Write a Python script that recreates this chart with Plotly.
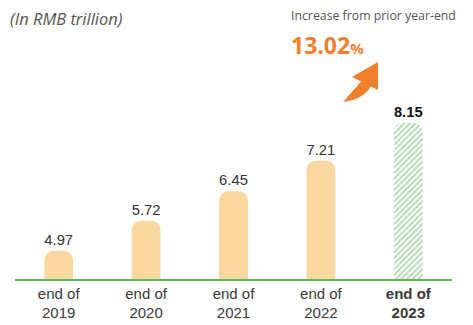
import plotly.graph_objects as go

categories = ["end of<br>2019", "end of<br>2020", "end of<br>2021", "end of<br>2022", "<b>end of<br>2023</b>"]
values = [4.97, 5.72, 6.45, 7.21, 8.15]
value_labels = ["4.97", "5.72", "6.45", "7.21", "<b>8.15</b>"]
growth_label = "13.02"

bar_fill = "#FCD8A1"
hatch_green = "#4CAF50"
orange = "#F07F2E"

fig = go.Figure()
fig.add_trace(go.Bar(
    x=categories[:4], y=values[:4],
    text=value_labels[:4], textposition="outside",
    textfont=dict(family="Liberation Sans, Arial", size=15, color="#333333"),
    marker=dict(color=bar_fill, line=dict(width=0)),
    cliponaxis=False, showlegend=False,
))
fig.add_trace(go.Bar(
    x=categories[4:], y=values[4:],
    text=value_labels[4:], textposition="outside",
    textfont=dict(family="Liberation Sans, Arial", size=16, color="#111111"),
    marker=dict(color="white", line=dict(width=0),
                pattern=dict(shape="/", fgcolor=hatch_green, bgcolor="white",
                             size=4, solidity=0.4, fillmode="overlay")),
    cliponaxis=False, showlegend=False,
))

fig.update_layout(
    width=473, height=325,
    margin=dict(l=7, r=29, t=52, b=54, autoexpand=False),
    paper_bgcolor="white", plot_bgcolor="white",
    bargap=0.67, barmode="overlay", barcornerradius=9,
    xaxis=dict(categoryorder="array", categoryarray=categories, automargin=False,
               showline=True, linecolor="#5DB85C", linewidth=1.5,
               ticks="", showgrid=False, zeroline=False,
               tickfont=dict(family="Liberation Sans, Arial", size=15, color="#3a3a3a")),
    yaxis=dict(range=[4.27, 9.71], visible=False, showgrid=False, zeroline=False, automargin=False),
    annotations=[
        dict(xref="paper", yref="paper", x=-0.016, y=1.0, yshift=42, xanchor="left", yanchor="middle",
             text="<i>(In RMB trillion)</i>", showarrow=False,
             font=dict(family="Open Sans", size=16.5, color="#555555")),
        dict(xref="paper", yref="paper", x=0.628, y=1.0, yshift=45, xanchor="left", yanchor="middle",
             text="Increase from prior year-end", showarrow=False,
             font=dict(family="Open Sans", size=12.3, color="#555555")),
        dict(xref="paper", yref="paper", x=0.628, y=1.0, yshift=15, xanchor="left", yanchor="middle",
             text="<b>" + growth_label + "<span style='font-size:15px'>%</span></b>", showarrow=False,
             font=dict(family="Open Sans", size=23, color=orange)),
    ],
    shapes=[
        dict(type="path", xref="paper", yref="paper", line=dict(width=0), fillcolor=orange,
             path="M 0.7506 0.8082 Q 0.7712 0.8539 0.7918 0.9018 L 0.7712 0.9224 L 0.8307 0.9909 "
                  "L 0.8307 0.8630 L 0.8146 0.8790 Q 0.7941 0.8174 0.7506 0.8082 Z"),
    ],
)

fig.write_html("out.html")
